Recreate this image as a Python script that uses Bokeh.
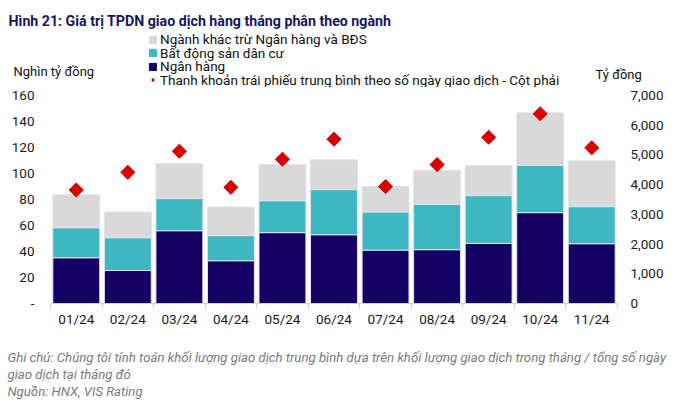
import math
from bokeh.plotting import figure
from bokeh.layouts import column
from bokeh.models import (ColumnDataSource, Range1d, LinearAxis, FixedTicker,
                          Label, Legend, LegendItem)
from bokeh.embed import file_html
from bokeh.resources import INLINE

# ---------------- data ----------------
months = ["01/24", "02/24", "03/24", "04/24", "05/24", "06/24",
          "07/24", "08/24", "09/24", "10/24", "11/24"]
ngan_hang = [35.2, 25.4, 56.0, 32.9, 54.5, 52.9, 41.1, 41.4, 46.2, 69.9, 46.0]
bat_dong_san = [23.1, 25.2, 24.7, 19.3, 24.6, 34.7, 29.3, 34.9, 36.8, 36.4, 28.5]
nganh_khac = [25.4, 19.8, 26.9, 22.1, 27.8, 22.9, 19.7, 26.2, 23.1, 40.4, 35.4]
thanh_khoan = [3820, 4415, 5125, 3910, 4855, 5530, 3935, 4675, 5595, 6385, 5240]

left_ticks = [0, 20, 40, 60, 80, 100, 120, 140, 160]
right_ticks = [0, 1000, 2000, 3000, 4000, 5000, 6000, 7000]

title_text = "Hình 21: Giá trị TPDN giao dịch hàng tháng phân theo ngành"
legend_labels = ["Ngành khác trừ Ngân hàng và BĐS", "Bất động sản dân cư", "Ngân hàng",
                 "Thanh khoản trái phiếu trung bình theo số ngày giao dịch - Cột phải"]
left_unit = "Nghìn tỷ đồng"
right_unit = "Tỷ đồng"
note1 = "Ghi chú: Chúng tôi tính toán khối lượng giao dịch trung bình dựa trên khối lượng giao dịch trong tháng / tổng số ngày"
note2 = "giao dịch tại tháng đó"
note3 = "Nguồn: HNX, VIS Rating"

# ---------------- styles ----------------
NAVY = "#150064"
TEAL = "#3db8c0"
GREY = "#d9d9d9"
RED = "#d90000"
FONT = "Roboto"
W = 684
H1, H2, H3 = 87, 248, 65

xs = list(range(len(months)))
src = ColumnDataSource(dict(x=xs, nh=ngan_hang, bds=bat_dong_san, khac=nganh_khac,
                            tk=thanh_khoan))


def blank_fig(h):
    f = figure(width=W, height=h, output_backend="svg", toolbar_location=None,
               x_range=Range1d(0, W), y_range=Range1d(h, 0),
               min_border=0, min_border_left=0, min_border_right=0,
               min_border_top=0, min_border_bottom=0, frame_align=False,
               x_axis_location=None, y_axis_location=None, outline_line_color=None)
    f.grid.visible = False
    return f


# ---------------- header ----------------
hdr = blank_fig(H1)
hdr.add_layout(Label(x=8, y=20.7, text=title_text, text_font=FONT, text_font_size="14.2px",
                     text_font_style="bold", text_color="#16165e", text_baseline="alphabetic"))
hdr.add_layout(Label(x=13, y=70.5, text=left_unit, text_font=FONT, text_font_size="13px",
                     text_color="#111111", text_baseline="alphabetic"))
hdr.add_layout(Label(x=595, y=74, text=right_unit, text_font=FONT, text_font_size="13px",
                     text_color="#111111", text_baseline="alphabetic"))

# legend proxies: same data, drawn on a range far outside the header's view
hdr.extra_y_ranges = {"off": Range1d(100000, 200000)}
lg_khac = hdr.vbar(x="x", top="khac", width=0.9, source=src, y_range_name="off",
                   fill_color=GREY, line_color=GREY)
lg_bds = hdr.vbar(x="x", top="bds", width=0.9, source=src, y_range_name="off",
                  fill_color=TEAL, line_color=TEAL)
lg_nh = hdr.vbar(x="x", top="nh", width=0.9, source=src, y_range_name="off",
                 fill_color=NAVY, line_color=NAVY)
lg_tk = hdr.scatter(x="x", y="nh", source=src, y_range_name="off", marker="diamond",
                    fill_color=RED, line_color=RED)

rows = [(lg_khac, legend_labels[0], 39.0), (lg_bds, legend_labels[1], 52.5),
        (lg_nh, legend_labels[2], 66.0), (lg_tk, legend_labels[3], 79.5)]
ROW_H = 16
for rend, text, yc in rows:
    lg = Legend(items=[LegendItem(label=text, renderers=[rend])],
                location=(148, H1 - (yc + ROW_H / 2)), padding=0, margin=0, spacing=0,
                glyph_width=9, glyph_height=9, label_height=9, label_standoff=3,
                label_text_font=FONT, label_text_font_size="13.5px",
                label_text_color="#111111", border_line_color=None,
                background_fill_alpha=0)
    hdr.add_layout(lg, "center")

# ---------------- main chart ----------------
p = figure(width=W, height=H2, output_backend="svg", toolbar_location=None,
           x_range=Range1d(-0.5, len(months) - 0.5), y_range=Range1d(0, 160),
           min_border_left=50, min_border_right=67, min_border_top=8,
           min_border_bottom=32, outline_line_color=None, y_axis_location=None,
           x_axis_location=None, frame_align=False)
p.grid.visible = False
p.extra_y_ranges = {"right": Range1d(0, 7000)}

bars = p.vbar_stack(["nh", "bds", "khac"], x="x", width=0.91, source=src,
                    color=[NAVY, TEAL, GREY], line_color="#e2e2ec", line_width=1)

pts = p.scatter(x="x", y="tk", source=src, y_range_name="right", marker="square",
                angle=math.pi / 4, size=10, fill_color=RED, line_color=RED)

xaxis = LinearAxis(ticker=FixedTicker(ticks=xs, minor_ticks=[i - 0.5 for i in range(len(months) + 1)]))
xaxis.major_label_overrides = {i: m for i, m in enumerate(months)}
xaxis.major_tick_line_color = None
xaxis.major_tick_out = 0
xaxis.minor_tick_out = 5
xaxis.minor_tick_in = 0
xaxis.minor_tick_line_color = "#d0d0d0"
xaxis.axis_line_color = "#d0d0d0"
xaxis.major_label_standoff = 2
xaxis.major_label_text_font = FONT
xaxis.major_label_text_font_size = "13.5px"
xaxis.major_label_text_color = "#1a1a1a"
p.add_layout(xaxis, "below")

yl = LinearAxis(ticker=FixedTicker(ticks=left_ticks))
yl.major_label_overrides = {0: "-"}
yl.axis_line_color = None
yl.major_tick_line_color = None
yl.minor_tick_line_color = None
yl.major_tick_out = 0
yl.major_label_standoff = 16
yl.major_label_text_font = FONT
yl.major_label_text_font_size = "13.5px"
yl.major_label_text_color = "#1a1a1a"
p.add_layout(yl, "left")

yr = LinearAxis(y_range_name="right", ticker=FixedTicker(ticks=right_ticks))
yr.major_label_overrides = {v: f"{v:,}" for v in right_ticks}
yr.axis_line_color = None
yr.major_tick_line_color = None
yr.minor_tick_line_color = None
yr.major_tick_out = 0
yr.major_label_standoff = 13
yr.major_label_text_font = FONT
yr.major_label_text_font_size = "13.5px"
yr.major_label_text_color = "#1a1a1a"
p.add_layout(yr, "right")

# ---------------- footer ----------------
ftr = blank_fig(H3)
for yb, t in [(21.7, note1), (38.5, note2), (55.5, note3)]:
    ftr.add_layout(Label(x=7, y=yb, text=t, text_font=FONT, text_font_size="13.2px",
                         text_font_style="italic", text_color="#7a7a7a",
                         text_baseline="alphabetic"))

layout = column(hdr, p, ftr, spacing=0)
open("out.html", "w").write(file_html(layout, INLINE))
